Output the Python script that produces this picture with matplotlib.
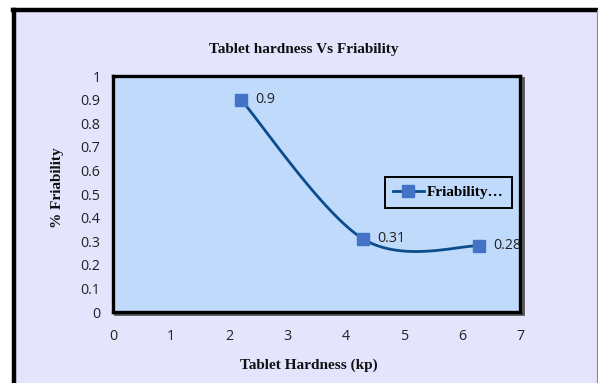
import numpy as np
import matplotlib
matplotlib.use("Agg")
import matplotlib.pyplot as plt
from matplotlib.patches import Rectangle
from matplotlib.lines import Line2D

# data
hardness = [2.2, 4.3, 6.3]
friability = [0.9, 0.31, 0.28]
labels = ["0.9", "0.31", "0.28"]
series_name = "Friability\u2026"
title = "Tablet hardness Vs Friability"
xlabel = "Tablet Hardness (kp)"
ylabel = "% Friability"
xticks = [0, 1, 2, 3, 4, 5, 6, 7]
yticks = [0, 0.1, 0.2, 0.3, 0.4, 0.5, 0.6, 0.7, 0.8, 0.9, 1]
ytick_labels = ["0", "0.1", "0.2", "0.3", "0.4", "0.5", "0.6", "0.7", "0.8", "0.9", "1"]

W, H = 598, 383
fig = plt.figure(figsize=(W / 100, H / 100), dpi=100)
fig.patch.set_facecolor("white")

def fx(px):
    return px / W

def fy(py):
    return 1 - py / H

# outer chart frame
fig.patches.append(Rectangle((fx(14), 0), fx(597) - fx(14), fy(10), transform=fig.transFigure,
                             facecolor="#E4E4FC", edgecolor="none", zorder=-3))
fig.lines.append(Line2D([fx(14), fx(14)], [0, fy(10)], transform=fig.transFigure, color="black", lw=3.2, zorder=-2))
fig.lines.append(Line2D([fx(12.5), fx(597)], [fy(10), fy(10)], transform=fig.transFigure, color="black", lw=3.2, zorder=-2))
fig.lines.append(Line2D([fx(597), fx(597)], [0, fy(10)], transform=fig.transFigure, color="#888888", lw=0.8, zorder=-2))

# plot area shadow
fig.patches.append(Rectangle((fx(115), fy(314)), fx(521) - fx(113), fy(76) - fy(312), transform=fig.transFigure,
                             facecolor="none", edgecolor="#555555", lw=2.0, zorder=-1))

ax = fig.add_axes([fx(113), fy(312), fx(520) - fx(113), fy(76) - fy(312)])
ax.set_zorder(1)
ax.set_facecolor("#C0DAFC")
for s in ax.spines.values():
    s.set_color("black")
    s.set_linewidth(2.4)

ax.set_xlim(0, 7)
ax.set_ylim(0, 1)
ax.set_xticks(xticks)
ax.set_yticks(yticks)
ax.set_yticklabels(ytick_labels)
ax.tick_params(length=0, labelsize=10.3, colors="#222222")
for lab in ax.get_xticklabels() + ax.get_yticklabels():
    lab.set_family("Open Sans")
ax.tick_params(axis="x", pad=12)
ax.tick_params(axis="y", pad=9)

# Excel-like smoothed line (Catmull-Rom Bezier)
P = np.column_stack([hardness, friability]).astype(float)
n = len(P)
curve = []
t = np.linspace(0, 1, 60)
for i in range(n - 1):
    p0 = P[i - 1] if i > 0 else P[i]
    p1 = P[i]
    p2 = P[i + 1]
    p3 = P[i + 2] if i + 2 < n else P[i + 1]
    c1 = p1 + (p2 - p0) / 6
    c2 = p2 - (p3 - p1) / 6
    seg = ((1 - t) ** 3)[:, None] * p1 + (3 * (1 - t) ** 2 * t)[:, None] * c1 + \
          (3 * (1 - t) * t ** 2)[:, None] * c2 + (t ** 3)[:, None] * p2
    curve.append(seg)
curve = np.vstack(curve)
ax.plot(curve[:, 0], curve[:, 1], color="#0B4C8C", lw=2.0, zorder=3)
ax.plot(hardness, friability, linestyle="none", marker="s", markersize=8.8,
        markerfacecolor="#4472C4", markeredgecolor="#4472C4", zorder=4)

for x, y, lab in zip(hardness, friability, labels):
    ax.annotate(lab, (x, y), xytext=(10, 0), textcoords="offset points", va="center", ha="left",
                fontsize=10.3, family="Open Sans", color="#222222", annotation_clip=False, clip_on=True, zorder=2)

# legend
leg_handle = Line2D([0], [0], color="#0B4C8C", lw=2.0, marker="s", markersize=8.8,
                    markerfacecolor="#4472C4", markeredgecolor="#4472C4")
leg = ax.legend([leg_handle], [series_name], loc="center", bbox_to_anchor=(0.824, 0.506),
                frameon=True, fancybox=False, handlelength=2.0, handletextpad=0.2,
                borderpad=0.55, prop={"family": "Liberation Serif", "weight": "bold", "size": 11})
leg.get_frame().set_edgecolor("black")
leg.get_frame().set_linewidth(1.4)
leg.get_frame().set_facecolor("#C0DAFC")
leg.get_frame().set_alpha(1)

fig.text(fx(304), fy(49), title, ha="center", va="center", family="Liberation Serif",
         weight="bold", fontsize=11, color="#111111")
fig.text(fx(309), fy(365), xlabel, ha="center", va="center", family="Liberation Serif",
         weight="bold", fontsize=11, color="#111111")
fig.text(fx(58), fy(188), ylabel, ha="center", va="center", rotation=90, family="Liberation Serif",
         weight="bold", fontsize=11, color="#111111")

fig.savefig("out.png", dpi=100)
